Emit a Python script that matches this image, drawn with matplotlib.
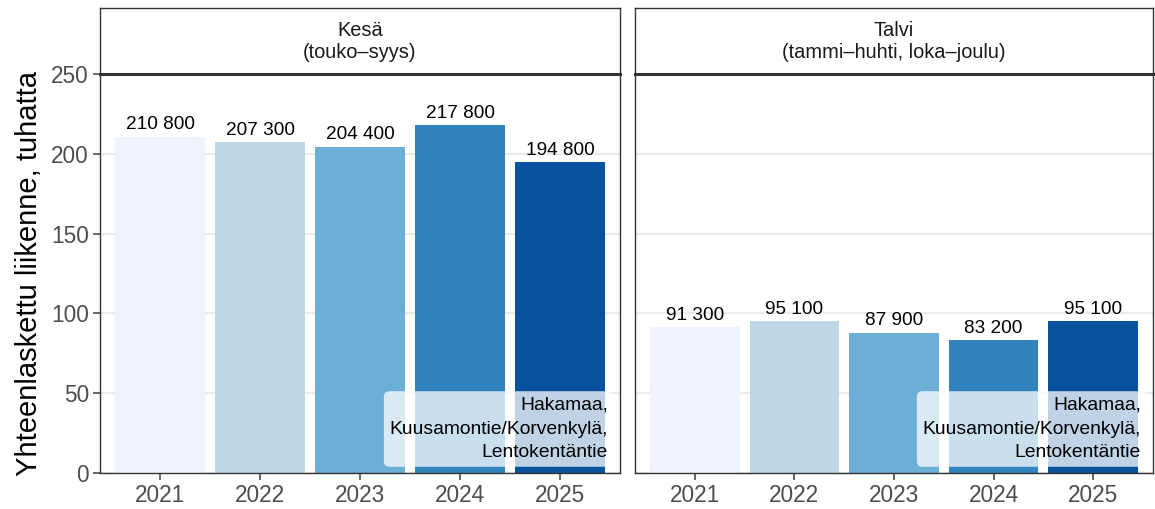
import matplotlib
matplotlib.use("Agg")
import matplotlib.pyplot as plt

plt.rcParams['font.family'] = ['Liberation Sans', 'DejaVu Sans']

years = ["2021", "2022", "2023", "2024", "2025"]
season_titles = ["Kesä\n(touko–syys)", "Talvi\n(tammi–huhti, loka–joulu)"]
summer_values = [210.8, 207.3, 204.4, 217.8, 194.8]
winter_values = [91.3, 95.1, 87.9, 83.2, 95.1]
summer_labels = ["210 800", "207 300", "204 400", "217 800", "194 800"]
winter_labels = ["91 300", "95 100", "87 900", "83 200", "95 100"]
colors = ["#EFF3FF", "#BDD7E7", "#6BAED6", "#3182BD", "#08519C"]
y_ticks = [0, 50, 100, 150, 200, 250]
ylabel = "Yhteenlaskettu liikenne, tuhatta"
note = "Hakamaa,\nKuusamontie/Korvenkylä,\nLentokentäntie"

W, H = 1155, 509
fig = plt.figure(figsize=(W / 100, H / 100), dpi=100)

def fx(px):
    return px / W

def fy(px):
    return 1 - px / H

panels = [(100, 620), (635, 1153)]
panel_top, panel_bot, strip_top = 74, 473, 8
border_col = "#333333"
tick_col = "#4D4D4D"

datasets = [(summer_values, summer_labels), (winter_values, winter_labels)]
for i, ((x0, x1), (vals, labs), title) in enumerate(zip(panels, datasets, season_titles)):
    pw = x1 - x0
    ph = panel_bot - panel_top
    ax = fig.add_axes([fx(x0), fy(panel_bot), fx(pw), ph / H])
    pos = list(range(1, len(years) + 1))
    ax.bar(pos, vals, width=0.9, color=colors, edgecolor="none", zorder=2)
    for p, v, l in zip(pos, vals, labs):
        ax.annotate(l, (p, v), xytext=(0, 2.5), textcoords="offset points",
                    ha="center", va="bottom", fontsize=13.7, color="black", zorder=4)
    ax.set_xlim(0.4, 5.6)
    ax.set_ylim(0, 250)
    ax.set_yticks(y_ticks)
    ax.set_xticks(pos)
    ax.set_xticklabels(years)
    ax.grid(axis="y", color="#EBEBEB", linewidth=1.6, zorder=0)
    ax.grid(axis="x", visible=False)
    ax.set_axisbelow(True)
    for s in ax.spines.values():
        s.set_color(border_col)
        s.set_linewidth(1.0)
    ax.tick_params(axis="both", colors=tick_col, labelsize=16.3, length=5, width=1.2,
                   labelcolor=tick_col, pad=3)
    if i == 0:
        ax.set_ylabel(ylabel, fontsize=21, color="black", labelpad=6)
    else:
        ax.tick_params(axis="y", left=False, labelleft=False)
    ax.text(1 - 12 / pw, 12 / ph, note, transform=ax.transAxes, ha="right", va="bottom",
            fontsize=13.9, color="black", linespacing=1.5, zorder=5,
            bbox=dict(boxstyle="round,pad=0.3,rounding_size=0.3", facecolor="white",
                      alpha=0.75, edgecolor="none"))
    # strip
    sax = fig.add_axes([fx(x0), fy(panel_top), fx(pw), (panel_top - strip_top) / H])
    sax.set_xticks([])
    sax.set_yticks([])
    for s in sax.spines.values():
        s.set_color(border_col)
        s.set_linewidth(1.0)
    sax.spines["bottom"].set_linewidth(2.2)
    sax.text(0.5, 0.5, title, ha="center", va="center", fontsize=14.4,
             color="#1A1A1A", linespacing=1.2, transform=sax.transAxes)

fig.savefig("out.png", dpi=100)
